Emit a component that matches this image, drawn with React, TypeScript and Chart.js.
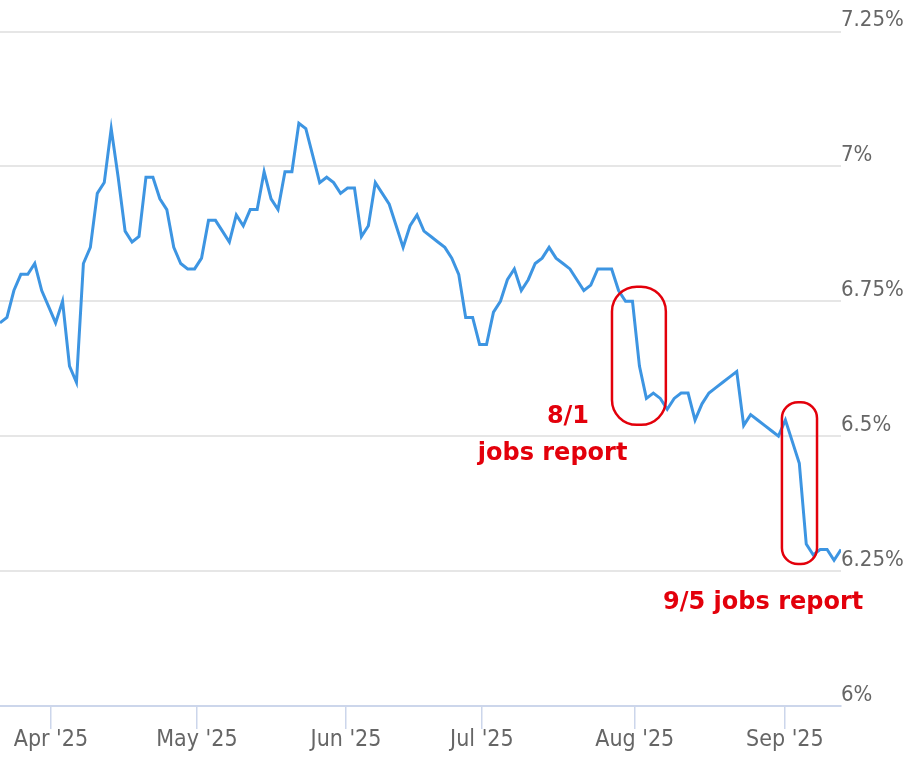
import React, { useEffect, useRef } from 'react';
import { Chart, registerables } from 'chart.js';

Chart.register(...registerables);

// 30-yr fixed daily rate (%), one value per business day, Mar 21 – Sep 12 2025
const rates = [
  6.71, 6.72, 6.77, 6.80, 6.80, 6.82, 6.77, 6.74, 6.71, 6.75,
  6.63, 6.60, 6.82, 6.85, 6.95, 6.97, 7.07, 6.98, 6.88, 6.86,
  6.87, 6.98, 6.98, 6.94, 6.92, 6.85, 6.82, 6.81, 6.81, 6.83,
  6.90, 6.90, 6.88, 6.86, 6.91, 6.89, 6.92, 6.92, 6.99, 6.94,
  6.92, 6.99, 6.99, 7.08, 7.07, 7.02, 6.97, 6.98, 6.97, 6.95,
  6.96, 6.96, 6.87, 6.89, 6.97, 6.95, 6.93, 6.89, 6.85, 6.89,
  6.91, 6.88, 6.87, 6.86, 6.85, 6.83, 6.80, 6.72, 6.72, 6.67,
  6.67, 6.73, 6.75, 6.79, 6.81, 6.77, 6.79, 6.82, 6.83, 6.85,
  6.83, 6.82, 6.81, 6.79, 6.77, 6.78, 6.81, 6.81, 6.81, 6.77,
  6.75, 6.75, 6.63, 6.57, 6.58, 6.57, 6.55, 6.57, 6.58, 6.58,
  6.53, 6.56, 6.58, 6.59, 6.60, 6.61, 6.62, 6.52, 6.54, 6.53,
  6.52, 6.51, 6.50, 6.53, 6.49, 6.45, 6.30, 6.28, 6.29, 6.29,
  6.27, 6.29,
];

// month boundaries, as positions on the business-day index
const monthTickPos = [7.33, 28.33, 49.78, 69.33, 91.33, 112.92];
const monthTickLabels = ["Apr '25", "May '25", "Jun '25", "Jul '25", "Aug '25", "Sep '25"];

const yMin = 6;
const yMax = 7.25;
const yStep = 0.25;

// highlight boxes around the two jobs-report drops (index range, rate range)
const highlightBoxes = [
  { x0: 88.05, x1: 95.8, y0: 6.521, y1: 6.777 },
  { x0: 112.5, x1: 117.55, y0: 6.263, y1: 6.563 },
];
const noteTexts = ['8/1', 'jobs report', '9/5 jobs report'];
const noteX = [81.72, 79.5, 109.8];
const noteY = [6.5245, 6.456, 6.18];

const BLUE = '#3d95e2';
const RED = '#e3000b';
const AXIS_FONT = "'Liberation Sans Narrow', 'DejaVu Sans Condensed', 'Arial Narrow', sans-serif";

function roundRectPath(ctx: CanvasRenderingContext2D, x: number, y: number, w: number, h: number, r: number) {
  const rr = Math.min(r, w / 2, h / 2);
  ctx.beginPath();
  ctx.moveTo(x + rr, y);
  ctx.lineTo(x + w - rr, y);
  ctx.arcTo(x + w, y, x + w, y + rr, rr);
  ctx.lineTo(x + w, y + h - rr);
  ctx.arcTo(x + w, y + h, x + w - rr, y + h, rr);
  ctx.lineTo(x + rr, y + h);
  ctx.arcTo(x, y + h, x, y + h - rr, rr);
  ctx.lineTo(x, y + rr);
  ctx.arcTo(x, y, x + rr, y, rr);
  ctx.closePath();
}

const notesPlugin = {
  id: 'jobsNotes',
  afterDatasetsDraw(chart: any) {
    const { ctx } = chart;
    const xs = chart.scales.x;
    const ys = chart.scales.y;
    ctx.save();
    ctx.strokeStyle = RED;
    ctx.lineWidth = 2.5;
    highlightBoxes.forEach((b) => {
      const left = xs.getPixelForValue(b.x0);
      const right = xs.getPixelForValue(b.x1);
      const top = ys.getPixelForValue(b.y1);
      const bottom = ys.getPixelForValue(b.y0);
      const w = right - left;
      roundRectPath(ctx, left, top, w, bottom - top, w * 0.46);
      ctx.stroke();
    });
    ctx.fillStyle = RED;
    ctx.font = "bold 24px 'DejaVu Sans', Verdana, sans-serif";
    ctx.textAlign = 'center';
    ctx.textBaseline = 'alphabetic';
    noteTexts.forEach((t, i) => {
      ctx.fillText(t, xs.getPixelForValue(noteX[i]), ys.getPixelForValue(noteY[i]));
    });
    ctx.restore();
  },
};

export default function App() {
  const canvasRef = useRef<HTMLCanvasElement | null>(null);

  useEffect(() => {
    const canvas = canvasRef.current;
    if (!canvas) return;
    const chart = new Chart(canvas, {
      type: 'line',
      data: {
        datasets: [
          {
            data: rates.map((v, i) => ({ x: i, y: v })),
            borderColor: BLUE,
            borderWidth: 3,
            pointRadius: 0,
            tension: 0,
            fill: false,
          },
        ],
      },
      options: {
        animation: false,
        responsive: false,
        maintainAspectRatio: false,
        layout: { padding: { top: 31.5, left: 0, right: 0, bottom: 0 } },
        plugins: {
          legend: { display: false },
          tooltip: { enabled: false },
          title: { display: false },
        },
        scales: {
          x: {
            type: 'linear',
            min: 0,
            max: rates.length - 1,
            afterBuildTicks: (s: any) => {
              s.ticks = monthTickPos.map((v) => ({ value: v }));
            },
            afterFit: (s: any) => {
              s.height = 56;
            },
            ticks: {
              autoSkip: false,
              maxRotation: 0,
              padding: -3,
              color: '#666666',
              font: { family: AXIS_FONT, size: 23 },
              callback: (_v: any, i: number) => monthTickLabels[i],
            },
            grid: {
              drawOnChartArea: false,
              drawTicks: true,
              tickLength: 23,
              color: '#ccd6eb',
              lineWidth: 1.5,
            },
            border: { display: true, color: '#ccd6eb', width: 2 },
          },
          y: {
            type: 'linear',
            position: 'right',
            min: yMin,
            max: yMax,
            afterFit: (s: any) => {
              s.width = 68;
            },
            ticks: {
              stepSize: yStep,
              align: 'end',
              padding: 0,
              color: '#666666',
              font: { family: AXIS_FONT, size: 22 },
              callback: (v: any) => `${v}%`,
            },
            grid: { drawTicks: false, color: '#e6e6e6', lineWidth: 2 },
            border: { display: false },
          },
        },
      },
      plugins: [notesPlugin],
    } as any);
    return () => chart.destroy();
  }, []);

  return (
    <div style={{ position: 'absolute', left: 0, top: 0, width: 909, height: 762, background: '#ffffff' }}>
      <canvas ref={canvasRef} width={909} height={762} style={{ display: 'block' }} />
    </div>
  );
}
